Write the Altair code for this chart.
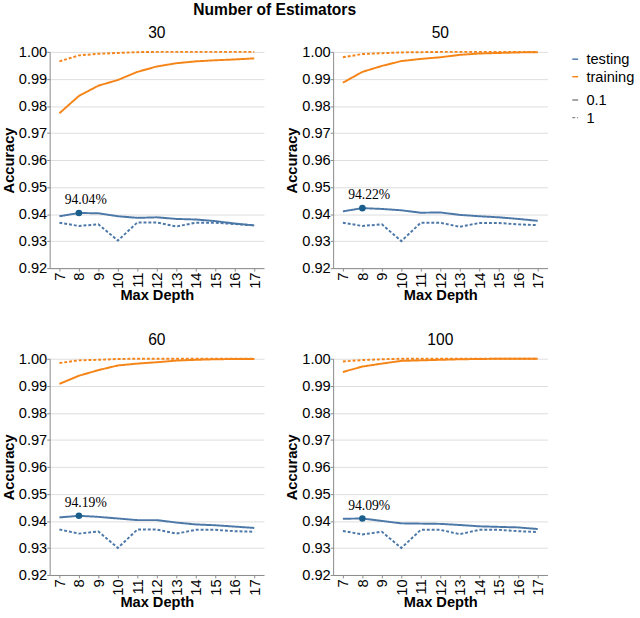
import altair as alt
import pandas as pd

# Max depth values on the x axis
depths = [7, 8, 9, 10, 11, 12, 13, 14, 15, 16, 17]
estimator_counts = [30, 50, 60, 100]
learning_rates = ["0.1", "1"]
sets = ["testing", "training"]
y_ticks = [0.92, 0.93, 0.94, 0.95, 0.96, 0.97, 0.98, 0.99, 1.00]

# 30 estimators
train_lr01_n30 = [0.9773, 0.9837, 0.9875, 0.9896, 0.9926, 0.9946, 0.9958, 0.9965, 0.9969, 0.9972, 0.9976]
train_lr1_n30 = [0.9965, 0.9987, 0.9993, 0.9996, 0.9999, 1.0, 1.0, 1.0, 1.0, 1.0, 1.0]
test_lr01_n30 = [0.9392, 0.9404, 0.9403, 0.9392, 0.9386, 0.9388, 0.9382, 0.9380, 0.9374, 0.9365, 0.9358]
test_lr1_n30 = [0.9368, 0.9356, 0.9362, 0.9302, 0.9369, 0.9369, 0.9354, 0.9368, 0.9368, 0.9363, 0.9358]

# 50 estimators
train_lr01_n50 = [0.9886, 0.9926, 0.9948, 0.9966, 0.9974, 0.9980, 0.9989, 0.9994, 0.9996, 0.9998, 0.9999]
train_lr1_n50 = [0.9980, 0.9992, 0.9995, 0.9998, 0.9999, 1.0, 1.0, 1.0, 1.0, 1.0, 1.0]
test_lr01_n50 = [0.9410, 0.9422, 0.9419, 0.9414, 0.9405, 0.9406, 0.9397, 0.9392, 0.9388, 0.9382, 0.9375]
test_lr1_n50 = [0.9368, 0.9356, 0.9362, 0.9300, 0.9368, 0.9368, 0.9353, 0.9367, 0.9367, 0.9362, 0.9359]

# 60 estimators
train_lr01_n60 = [0.9907, 0.9937, 0.9958, 0.9975, 0.9982, 0.9987, 0.9993, 0.9996, 0.9998, 0.9999, 0.9999]
train_lr1_n60 = [0.9984, 0.9994, 0.9996, 0.9999, 1.0, 1.0, 1.0, 1.0, 1.0, 1.0, 1.0]
test_lr01_n60 = [0.9413, 0.9419, 0.9415, 0.9409, 0.9403, 0.9403, 0.9394, 0.9387, 0.9384, 0.9379, 0.9374]
test_lr1_n60 = [0.9368, 0.9353, 0.9361, 0.9300, 0.9368, 0.9368, 0.9353, 0.9367, 0.9367, 0.9362, 0.9360]

# 100 estimators
train_lr01_n100 = [0.9951, 0.9971, 0.9982, 0.9992, 0.9994, 0.9996, 0.9998, 0.9999, 1.0, 1.0, 1.0]
train_lr1_n100 = [0.9990, 0.9995, 0.9998, 1.0, 1.0, 1.0, 1.0, 1.0, 1.0, 1.0, 1.0]
test_lr01_n100 = [0.9408, 0.9409, 0.9400, 0.9391, 0.9390, 0.9389, 0.9385, 0.9380, 0.9378, 0.9376, 0.9370]
test_lr1_n100 = [0.9363, 0.9350, 0.9360, 0.9300, 0.9367, 0.9367, 0.9351, 0.9367, 0.9367, 0.9362, 0.9359]

series = {
    30: (train_lr01_n30, train_lr1_n30, test_lr01_n30, test_lr1_n30),
    50: (train_lr01_n50, train_lr1_n50, test_lr01_n50, test_lr1_n50),
    60: (train_lr01_n60, train_lr1_n60, test_lr01_n60, test_lr1_n60),
    100: (train_lr01_n100, train_lr1_n100, test_lr01_n100, test_lr1_n100),
}

rows = []
for n in estimator_counts:
    tr01, tr1, te01, te1 = series[n]
    for values, set_name, lr in [
        (te01, "testing", "0.1"),
        (te1, "testing", "1"),
        (tr01, "training", "0.1"),
        (tr1, "training", "1"),
    ]:
        for d, acc in zip(depths, values):
            rows.append({"n": n, "depth": d, "acc": acc, "set": set_name, "lr": lr})
df = pd.DataFrame(rows)

x = alt.X(
    "depth:O",
    title="Max Depth",
    axis=alt.Axis(labelAngle=-90, tickSize=3, labelPadding=1, titlePadding=0),
)
y = alt.Y(
    "acc:Q",
    title="Accuracy",
    scale=alt.Scale(domain=[0.92, 1.0]),
    axis=alt.Axis(values=y_ticks, format=".2f", tickSize=3, labelPadding=0, titlePadding=2),
)

lines = alt.Chart().mark_line(strokeWidth=2).encode(
    x=x,
    y=y,
    color=alt.Color(
        "set:N",
        scale=alt.Scale(domain=sets, range=["#4c78a8", "#f58518"]),
        legend=alt.Legend(title=None),
    ),
    strokeDash=alt.StrokeDash(
        "lr:N",
        scale=alt.Scale(domain=learning_rates, range=[[1, 0], [3, 2]]),
        legend=alt.Legend(title=None),
    ),
)

# best testing accuracy (learning rate 0.1) in each panel
best = (
    alt.Chart()
    .transform_filter("datum.set == 'testing' && datum.lr == '0.1'")
    .transform_joinaggregate(best="max(acc)", groupby=["n"])
    .transform_filter("datum.acc == datum.best")
)

points = best.mark_circle(size=45, color="#1a5e8c", opacity=1).encode(x=x, y=y)
labels = best.mark_text(
    font="Liberation Serif", fontSize=14, dx=7, dy=-9, baseline="alphabetic", color="#000"
).encode(x=x, y=y, text=alt.Text("acc:Q", format=".2%"))

chart = (
    alt.layer(lines, points, labels, data=df)
    .properties(width=220, height=222)
    .facet(
        facet=alt.Facet(
            "n:O",
            title="Number of Estimators",
            header=alt.Header(
                titleFontSize=16,
                titleFontWeight="bold",
                titleFont="Liberation Sans",
                titlePadding=7,
                labelFontSize=16,
                labelFont="Liberation Sans",
                labelPadding=4,
            ),
        ),
        columns=2,
        spacing={"row": 28, "column": 20},
    )
    .resolve_axis(x="independent", y="independent")
    .properties(padding={"left": 1, "top": -6, "right": 5, "bottom": 3})
    .configure(font="Liberation Sans")
    .configure_view(stroke="transparent")
    .configure_axis(
        labelFontSize=15,
        titleFontSize=15,
        labelFont="Liberation Sans",
        titleFont="Liberation Sans",
    )
    .configure_legend(
        labelFontSize=15, labelFont="Liberation Sans", symbolSize=36, offset=20
    )
)

chart.save("out.html", embed_options={"renderer": "svg", "actions": False})
